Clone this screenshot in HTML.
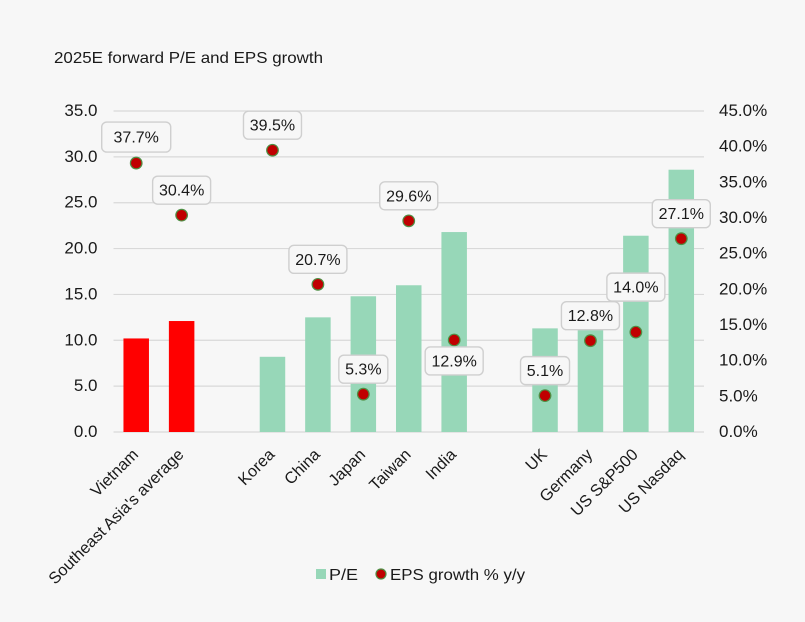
<!DOCTYPE html>
<html lang="en">
<head>
<meta charset="utf-8">
<title>2025E forward P/E and EPS growth</title>
<style>
html,body{margin:0;padding:0;background:#f7f7f7;}
svg{display:block;font-family:"Liberation Sans",sans-serif;fill:#1a1a1a;}
text{font-size:16px;}
</style>
</head>
<body>
<svg id="chart" width="805" height="622" viewBox="0 0 805 622" xmlns="http://www.w3.org/2000/svg">
<rect x="0" y="0" width="805" height="622" fill="#f7f7f7"/>
<text x="54" y="63" textLength="269" lengthAdjust="spacingAndGlyphs">2025E forward P/E and EPS growth</text>
<g id="grid"></g>
<g id="bars"></g>
<g id="left"></g>
<g id="right"></g>
<g id="cats"></g>
<g id="points"></g>
<g id="labels"></g>
<g>
<rect x="316" y="569" width="10" height="10" fill="#97d7b8"/>
<text x="329" y="580" textLength="29" lengthAdjust="spacingAndGlyphs">P/E</text>
<circle cx="381" cy="574" r="5" fill="#c00000" stroke="#4f8f45" stroke-width="1.2"/>
<text x="390" y="580" textLength="135" lengthAdjust="spacingAndGlyphs">EPS growth % y/y</text>
</g>
</svg>
<script>
const categories = ["Vietnam","Southeast Asia's average","","Korea","China","Japan","Taiwan","India","","UK","Germany","US S&P500","US Nasdaq"];
const peValues = [10.2,12.1,null,8.2,12.5,14.8,16.0,21.8,null,11.3,11.4,21.4,28.6];
const epsValues = [37.7,30.4,null,39.5,20.7,5.3,29.6,12.9,null,5.1,12.8,14.0,27.1];
const leftTicks = [0,5,10,15,20,25,30,35];
const rightTicks = [0,5,10,15,20,25,30,35,40,45];
const highlighted = ["Vietnam","Southeast Asia's average"];
const raisedLabels = ["US S&P500"];
const loweredLabels = ["India"];
const largeLabelBoxes = ["Vietnam"];

const NS = "http://www.w3.org/2000/svg";
const plot = {left:113.5, right:704, top:111, bottom:432};
const leftMax = 35, rightMax = 45;
const step = (plot.right - plot.left) / categories.length;
const xPos = i => plot.left + step * (i + 0.5);
const yLeft = v => plot.bottom - (v / leftMax) * (plot.bottom - plot.top);
const yRight = v => plot.bottom - (v / rightMax) * (plot.bottom - plot.top);
function make(tag, attrs, parent, txt){
  const el = document.createElementNS(NS, tag);
  for (const k in attrs) el.setAttribute(k, attrs[k]);
  if (txt !== undefined) el.textContent = txt;
  document.getElementById(parent).appendChild(el);
  return el;
}

leftTicks.forEach(t => {
  const g = make("line", {x1:plot.left, x2:plot.right, y1:yLeft(t), y2:yLeft(t), stroke:"#d9d9d9", "stroke-width":1.2}, "grid");
  
  
  const l = make("text", {x:97.5, y:yLeft(t)+5, "text-anchor":"end", style:"font-size:17px"}, "left", t.toFixed(1));
  
  
});
rightTicks.forEach(t => {
  const l = make("text", {x:719, y:yRight(t)+5, style:"font-size:17px"}, "right", t.toFixed(1) + "%");
  
  
});
categories.forEach((c, i) => {
  if (!c) return;
  const x = xPos(i);
  const pe = peValues[i];
  const b = make("rect", {x:x-12.75, y:yLeft(pe), width:25.5, height:plot.bottom-yLeft(pe), fill:highlighted.includes(c) ? "#ff0000" : "#97d7b8"}, "bars");
  
  
  const t = make("text", {"text-anchor":"end", transform:"translate("+(x+3)+",455.5) rotate(-45)", style:"font-size:16.3px"}, "cats", c);
  
  
});
categories.forEach((c, i) => {
  if (!c) return;
  const x = xPos(i), eps = epsValues[i], y = yRight(eps);
  const p = make("circle", {cx:x, cy:y, r:5.8, fill:"#c00000", stroke:"#4f8f45", "stroke-width":1.2}, "points");
  
  
  const dy = raisedLabels.includes(c) ? -45 : loweredLabels.includes(c) ? 21 : -25;
  const txt = eps.toFixed(1) + "%";
  const large = largeLabelBoxes.includes(c);
  const w = large ? 69 : (txt.length === 4 ? 49 : 58);
  const h = large ? 30 : 28;
  const cy = large ? y + dy - 1 : y + dy;
  const r = make("rect", {x:x-w/2, y:cy-h/2, width:w, height:h, rx:5, fill:"#f7f7f7", stroke:"#cfcfcf", "stroke-width":1.4}, "labels");
  
  
  const t = make("text", {x:x, y:cy+5.5, "text-anchor":"middle"}, "labels", txt);
  
  
});
</script>
</body>
</html>
